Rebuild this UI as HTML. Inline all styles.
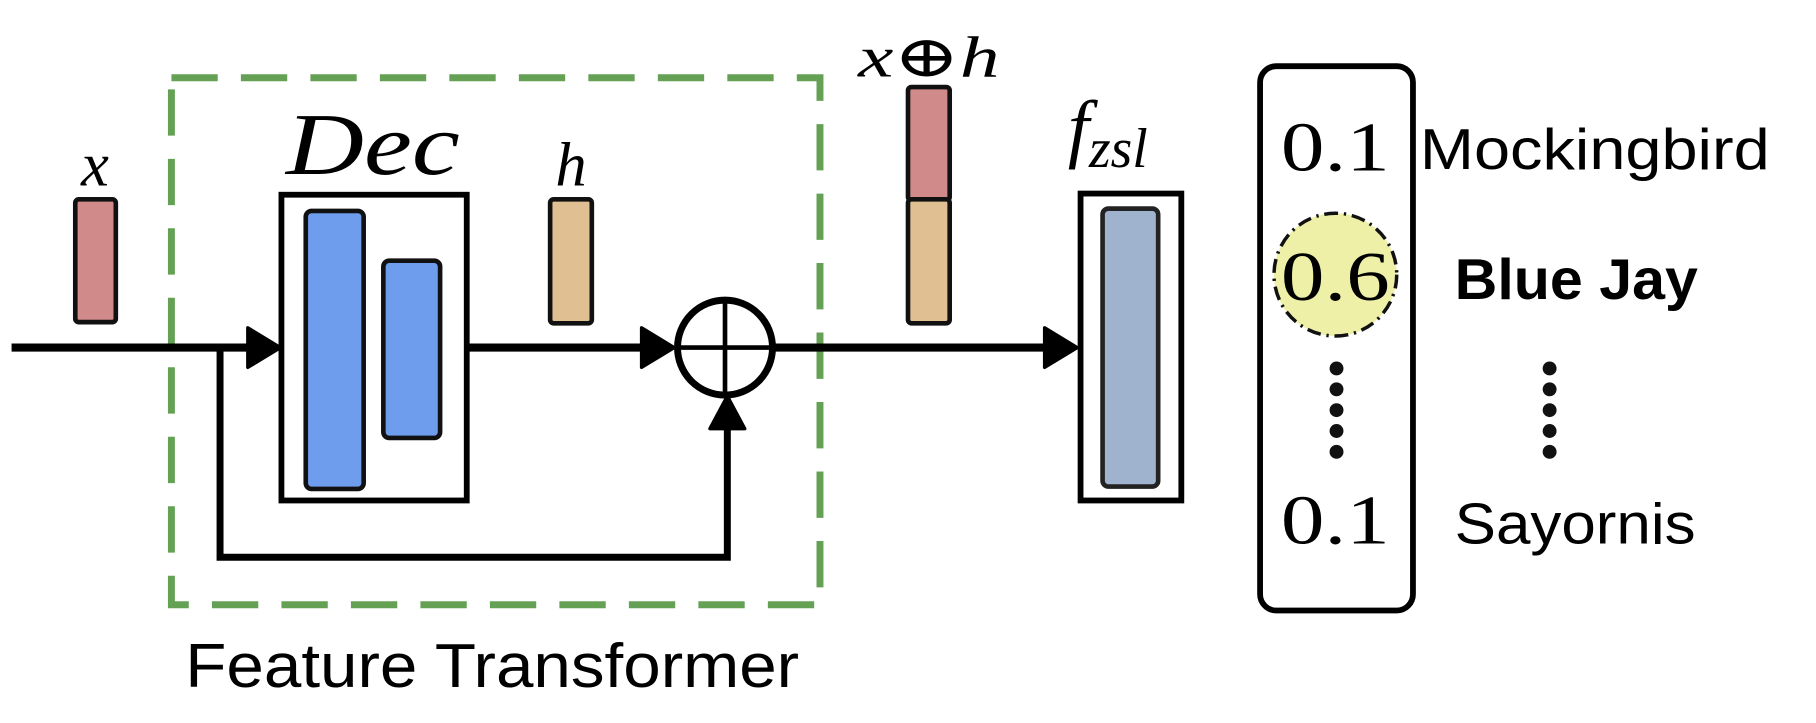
<!DOCTYPE html>
<html><head><meta charset="utf-8"><style>html,body{margin:0;padding:0;background:#fff;}svg{display:block}</style></head>
<body>
<svg width="1816" height="723" viewBox="0 0 1568 624" xmlns="http://www.w3.org/2000/svg">
<rect width="1568" height="624" fill="#fff"/>
<rect x="148" y="67" width="560" height="455" fill="none" stroke="#64a155" stroke-width="6" stroke-dasharray="40 20"/>
<text x="160" y="593" font-family="Liberation Sans, sans-serif" font-size="54" textLength="530" lengthAdjust="spacingAndGlyphs">Feature Transformer</text>
<!-- x -->
<rect x="65" y="172" width="35" height="106" rx="3" fill="#d08a8a" stroke="#111" stroke-width="4"/>
<text x="82" y="160" text-anchor="middle" font-family="Liberation Serif, serif" font-style="italic" font-size="54">x</text>
<!-- main line -->
<g stroke="#000" stroke-width="7" fill="none">
<line x1="10" y1="300" x2="218" y2="300"/>
<line x1="403" y1="300" x2="558" y2="300"/>
<line x1="668" y1="300" x2="906" y2="300"/>
<polyline points="190,300 190,481 628,481 628,366" stroke-width="6"/>
</g>
<g fill="#000" stroke="#000" stroke-width="3" stroke-linejoin="round">
<polygon points="214,283 242,300 214,317"/>
<polygon points="554,283 582,300 554,317"/>
<polygon points="902,283 930,300 902,317"/>
<polygon points="613,370 628,342 643,370"/>
</g>
<!-- Dec -->
<rect x="243" y="168" width="160" height="264" fill="#fff" stroke="#000" stroke-width="5"/>
<rect x="264" y="182" width="50" height="240" rx="5" fill="#6f9ded" stroke="#111" stroke-width="4"/>
<rect x="331" y="225" width="49" height="153" rx="5" fill="#6f9ded" stroke="#111" stroke-width="4"/>
<text x="322" y="150" text-anchor="middle" font-family="Liberation Serif, serif" font-style="italic" font-size="76" textLength="150" lengthAdjust="spacingAndGlyphs">Dec</text>
<!-- h -->
<rect x="475" y="172" width="36" height="107" rx="3" fill="#e0c092" stroke="#111" stroke-width="4"/>
<text x="493" y="160" text-anchor="middle" font-family="Liberation Serif, serif" font-style="italic" font-size="54">h</text>
<!-- oplus -->
<g stroke="#000" fill="#fff">
<circle cx="626" cy="300" r="41" stroke-width="6"/>
<line x1="626" y1="259" x2="626" y2="341" stroke-width="4"/>
<line x1="585" y1="300" x2="667" y2="300" stroke-width="4"/>
</g>
<!-- x+h -->
<rect x="784" y="75" width="36" height="98" rx="3" fill="#d08a8a" stroke="#111" stroke-width="4"/>
<rect x="784" y="172" width="36" height="107" rx="3" fill="#e0c092" stroke="#111" stroke-width="4"/>
<text x="802" y="66" text-anchor="middle" font-family="Liberation Serif, DejaVu Serif, serif" font-style="italic" font-size="50" textLength="122" lengthAdjust="spacingAndGlyphs">x⊕h</text>
<!-- f_zsl -->
<rect x="933" y="167" width="87" height="265" fill="#fff" stroke="#000" stroke-width="5"/>
<rect x="952" y="180" width="48" height="240" rx="5" fill="#9fb3cf" stroke="#222" stroke-width="4"/>
<text x="922" y="132" font-family="Liberation Serif, serif" font-style="italic" font-size="66">f<tspan font-size="48" dy="12">zsl</tspan></text>
<!-- output -->
<rect x="1088" y="57" width="132" height="470" rx="14" fill="#fff" stroke="#000" stroke-width="5"/>
<circle cx="1153" cy="237" r="53" fill="#eef0a8" stroke="#111" stroke-width="3" stroke-dasharray="12 5 2 5"/>
<g font-family="Liberation Serif, serif" font-size="60" text-anchor="middle">
<text x="1153" y="147" textLength="94" lengthAdjust="spacingAndGlyphs">0.1</text>
<text x="1153" y="259" textLength="94" lengthAdjust="spacingAndGlyphs">0.6</text>
<text x="1153" y="469" textLength="94" lengthAdjust="spacingAndGlyphs">0.1</text>
</g>
<g fill="#111">
<circle cx="1154" cy="318" r="6"/><circle cx="1154" cy="336" r="6"/><circle cx="1154" cy="354" r="6"/><circle cx="1154" cy="372" r="6"/><circle cx="1154" cy="390" r="6"/>
<circle cx="1338" cy="318" r="6"/><circle cx="1338" cy="336" r="6"/><circle cx="1338" cy="354" r="6"/><circle cx="1338" cy="372" r="6"/><circle cx="1338" cy="390" r="6"/>
</g>
<g font-family="Liberation Sans, sans-serif" font-size="50">
<text x="1226" y="146" textLength="302" lengthAdjust="spacingAndGlyphs">Mockingbird</text>
<text x="1256" y="258" font-weight="bold" textLength="210" lengthAdjust="spacingAndGlyphs">Blue Jay</text>
<text x="1256" y="469" textLength="208" lengthAdjust="spacingAndGlyphs">Sayornis</text>
</g>
</svg>
</body></html>
